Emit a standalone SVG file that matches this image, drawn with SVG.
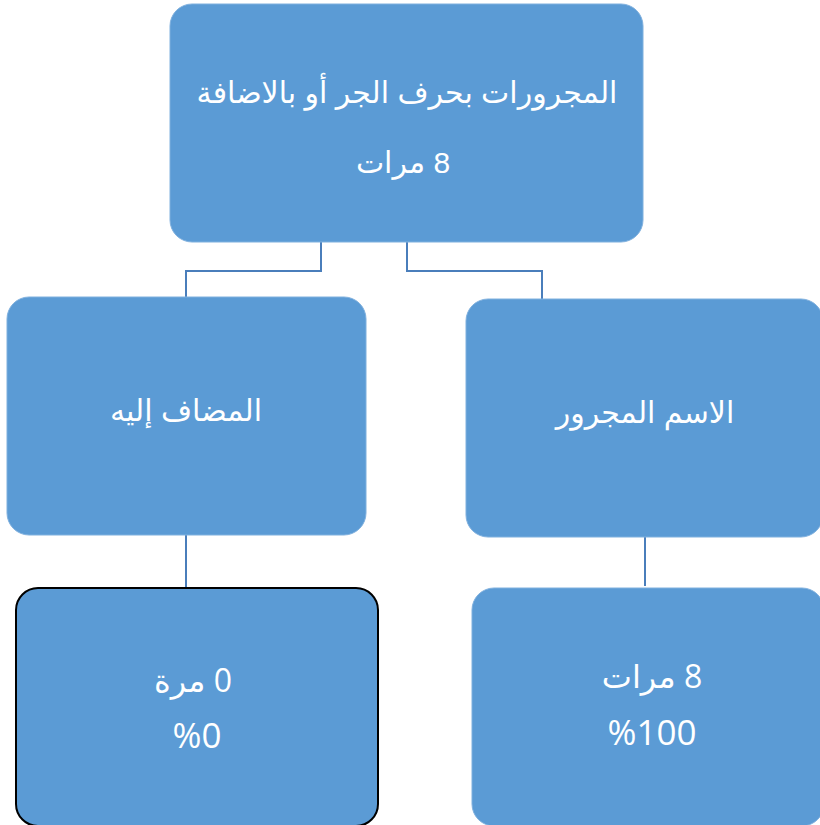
<svg xmlns="http://www.w3.org/2000/svg" width="820" height="825" viewBox="0 0 820 825">
  <style>
    .box { fill: #5B9BD5; stroke: #7FB0DE; stroke-width: 1; }
    .box-dark { fill: #5B9BD5; stroke: #000000; stroke-width: 2; }
    .lbl { fill: #FFFFFF; font-family: "Liberation Sans", "DejaVu Sans", sans-serif; font-size: 30px; text-anchor: middle; direction: rtl; }
    .num { fill: #FFFFFF; font-family: "Open Sans", "DejaVu Sans", sans-serif; font-size: 32px; text-anchor: middle; direction: rtl; }
    .pct { font-size: 35px; }
    .link { fill: none; stroke: #4A7EBB; stroke-width: 2; }
  </style>
  <rect width="820" height="825" fill="#FFFFFF"/>

  <g id="connectors">
    <polyline class="link" points="321,242 321,271 186,271 186,297"/>
    <polyline class="link" points="407,242 407,271 542,271 542,299"/>
    <line class="link" x1="186" y1="535" x2="186" y2="588"/>
    <line class="link" x1="645" y1="537" x2="645" y2="586"/>
  </g>

  <g id="root">
    <rect class="box" x="170" y="4" width="473" height="238" rx="22"/>
    <text class="lbl" x="407" y="103">المجرورات بحرف الجر أو بالاضافة</text>
    <text class="lbl" x="403" y="173">8 مرات</text>
  </g>

  <g id="mudaf-ilayh">
    <rect class="box" x="7" y="297" width="359" height="238" rx="22"/>
    <text class="lbl" x="186" y="421">المضاف إليه</text>
  </g>

  <g id="ism-majrur">
    <rect class="box" x="466" y="299" width="357" height="238" rx="22"/>
    <text class="lbl" x="645" y="423">الاسم المجرور</text>
  </g>

  <g id="mudaf-count">
    <rect class="box-dark" x="16" y="588" width="362" height="238" rx="22"/>
    <text class="num" x="193" y="692">0 مرة</text>
    <text class="num pct" x="197" y="748">%0</text>
  </g>

  <g id="majrur-count">
    <rect class="box" x="472" y="588" width="352" height="238" rx="22"/>
    <text class="num" x="652" y="688">8 مرات</text>
    <text class="num pct" x="652" y="745">%100</text>
  </g>
</svg>
